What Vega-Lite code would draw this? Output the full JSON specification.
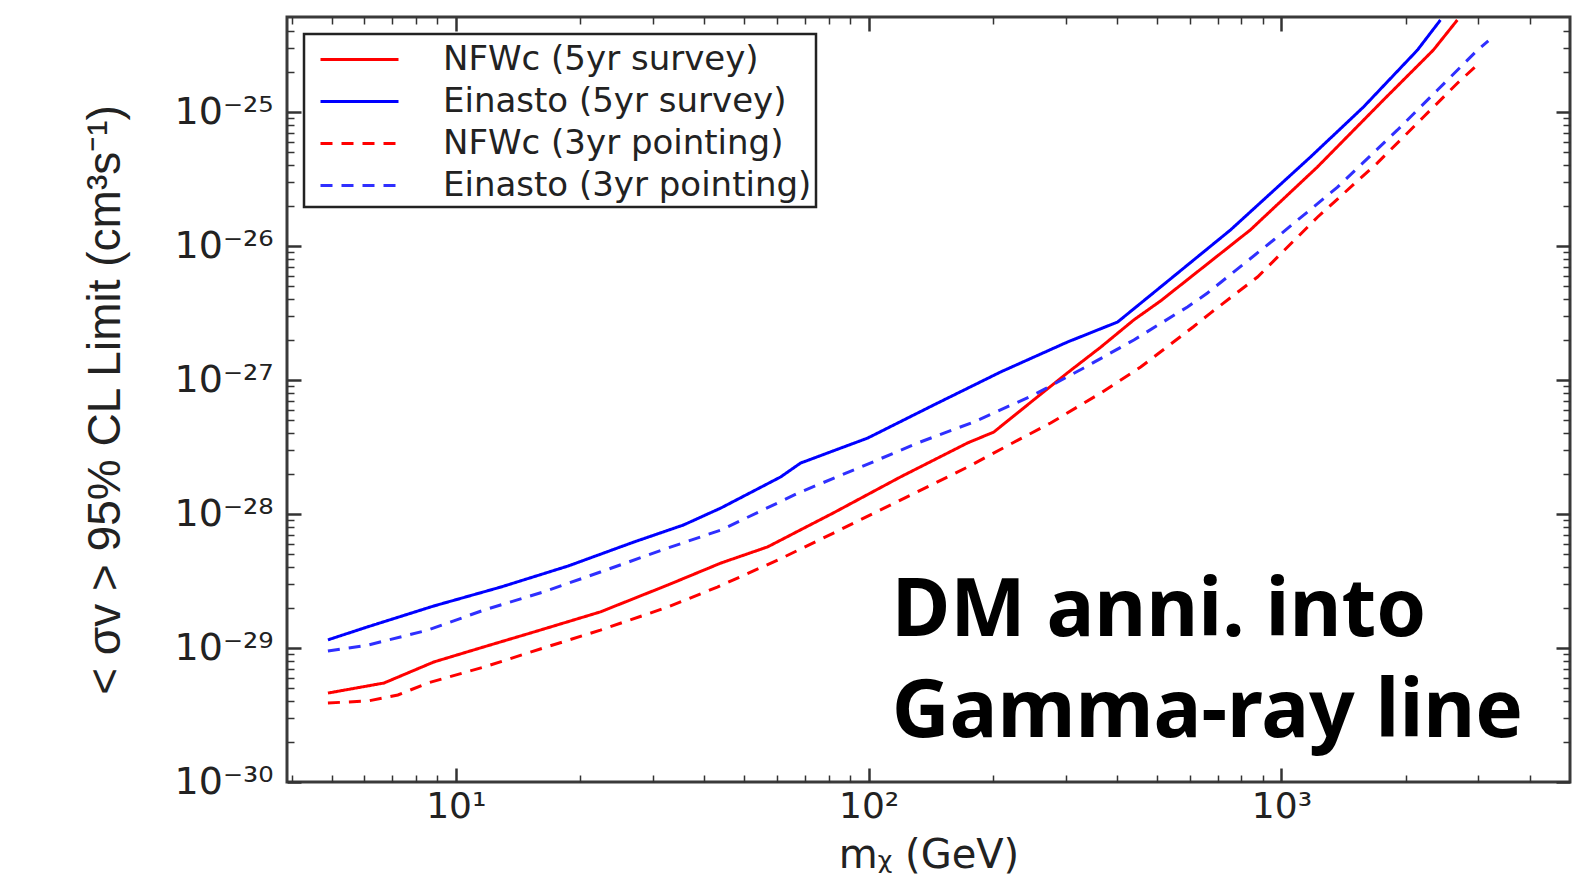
{
  "$schema": "https://vega.github.io/schema/vega-lite/v6.json",
  "width": 1283,
  "height": 765,
  "autosize": "none",
  "padding": {"left": 287, "top": 17, "right": 18, "bottom": 106},
  "background": "#ffffff",
  "config": {
    "view": {"stroke": "#3a3a3a", "strokeWidth": 3},
    "legend": {
      "orient": "top-left",
      "offset": 17,
      "symbolType": "M-0.45,0H3.45",
      "symbolSize": 1600,
      "symbolStrokeWidth": 3,
      "labelOffset": 92,
      "labelFont": "DejaVu Sans",
      "labelFontSize": 34,
      "labelColor": "#222222",
      "labelLimit": 800,
      "rowPadding": 3,
      "padding": 4,
      "strokeColor": "#222222",
      "strokeWidth": 2.5,
      "fillColor": "#ffffff"
    }
  },
  "resolve": {"axis": {"x": "independent", "y": "independent"}},
  "layer": [
    {
      "data": {
        "values": [
          {"series": "Einasto (5yr survey)", "mass": 4.9, "limit": 1.15e-29},
          {"series": "Einasto (5yr survey)", "mass": 6.12, "limit": 1.44e-29},
          {"series": "Einasto (5yr survey)", "mass": 8.85, "limit": 2.06e-29},
          {"series": "Einasto (5yr survey)", "mass": 12.85, "limit": 2.85e-29},
          {"series": "Einasto (5yr survey)", "mass": 18.7, "limit": 4.09e-29},
          {"series": "Einasto (5yr survey)", "mass": 27, "limit": 6.18e-29},
          {"series": "Einasto (5yr survey)", "mass": 35.6, "limit": 8.28e-29},
          {"series": "Einasto (5yr survey)", "mass": 43.9, "limit": 1.11e-28},
          {"series": "Einasto (5yr survey)", "mass": 61.2, "limit": 1.89e-28},
          {"series": "Einasto (5yr survey)", "mass": 68.4, "limit": 2.4e-28},
          {"series": "Einasto (5yr survey)", "mass": 99.5, "limit": 3.69e-28},
          {"series": "Einasto (5yr survey)", "mass": 143.6, "limit": 6.5e-28},
          {"series": "Einasto (5yr survey)", "mass": 209, "limit": 1.15e-27},
          {"series": "Einasto (5yr survey)", "mass": 303, "limit": 1.92e-27},
          {"series": "Einasto (5yr survey)", "mass": 401, "limit": 2.71e-27},
          {"series": "Einasto (5yr survey)", "mass": 482, "limit": 4.3e-27},
          {"series": "Einasto (5yr survey)", "mass": 753, "limit": 1.32e-26},
          {"series": "Einasto (5yr survey)", "mass": 1175, "limit": 4.61e-26},
          {"series": "Einasto (5yr survey)", "mass": 1580, "limit": 1.09e-25},
          {"series": "Einasto (5yr survey)", "mass": 2135, "limit": 2.9e-25},
          {"series": "Einasto (5yr survey)", "mass": 2427, "limit": 4.86e-25},
          {"series": "NFWc (5yr survey)", "mass": 4.9, "limit": 4.61e-30},
          {"series": "NFWc (5yr survey)", "mass": 6.7, "limit": 5.48e-30},
          {"series": "NFWc (5yr survey)", "mass": 8.85, "limit": 7.87e-30},
          {"series": "NFWc (5yr survey)", "mass": 11.7, "limit": 1.02e-29},
          {"series": "NFWc (5yr survey)", "mass": 15.5, "limit": 1.32e-29},
          {"series": "NFWc (5yr survey)", "mass": 22.4, "limit": 1.86e-29},
          {"series": "NFWc (5yr survey)", "mass": 32.6, "limit": 2.95e-29},
          {"series": "NFWc (5yr survey)", "mass": 43.9, "limit": 4.31e-29},
          {"series": "NFWc (5yr survey)", "mass": 56.9, "limit": 5.68e-29},
          {"series": "NFWc (5yr survey)", "mass": 82.2, "limit": 1.02e-28},
          {"series": "NFWc (5yr survey)", "mass": 119.4, "limit": 1.89e-28},
          {"series": "NFWc (5yr survey)", "mass": 173.6, "limit": 3.39e-28},
          {"series": "NFWc (5yr survey)", "mass": 201, "limit": 4.09e-28},
          {"series": "NFWc (5yr survey)", "mass": 251, "limit": 7.1e-28},
          {"series": "NFWc (5yr survey)", "mass": 303, "limit": 1.13e-27},
          {"series": "NFWc (5yr survey)", "mass": 365, "limit": 1.76e-27},
          {"series": "NFWc (5yr survey)", "mass": 439, "limit": 2.81e-27},
          {"series": "NFWc (5yr survey)", "mass": 510, "limit": 3.9e-27},
          {"series": "NFWc (5yr survey)", "mass": 841, "limit": 1.32e-26},
          {"series": "NFWc (5yr survey)", "mass": 1222, "limit": 3.89e-26},
          {"series": "NFWc (5yr survey)", "mass": 1766, "limit": 1.23e-25},
          {"series": "NFWc (5yr survey)", "mass": 2333, "limit": 2.9e-25},
          {"series": "NFWc (5yr survey)", "mass": 2667, "limit": 4.86e-25},
          {"series": "Einasto (3yr pointing)", "mass": 4.9, "limit": 9.5e-30},
          {"series": "Einasto (3yr pointing)", "mass": 6.12, "limit": 1.05e-29},
          {"series": "Einasto (3yr pointing)", "mass": 8.55, "limit": 1.36e-29},
          {"series": "Einasto (3yr pointing)", "mass": 11.7, "limit": 1.92e-29},
          {"series": "Einasto (3yr pointing)", "mass": 16.3, "limit": 2.62e-29},
          {"series": "Einasto (3yr pointing)", "mass": 22.4, "limit": 3.69e-29},
          {"series": "Einasto (3yr pointing)", "mass": 32.6, "limit": 5.57e-29},
          {"series": "Einasto (3yr pointing)", "mass": 43.9, "limit": 7.6e-29},
          {"series": "Einasto (3yr pointing)", "mass": 68.4, "limit": 1.46e-28},
          {"series": "Einasto (3yr pointing)", "mass": 95.7, "limit": 2.24e-28},
          {"series": "Einasto (3yr pointing)", "mass": 131.5, "limit": 3.39e-28},
          {"series": "Einasto (3yr pointing)", "mass": 179.6, "limit": 4.86e-28},
          {"series": "Einasto (3yr pointing)", "mass": 251, "limit": 7.73e-28},
          {"series": "Einasto (3yr pointing)", "mass": 332, "limit": 1.23e-27},
          {"series": "Einasto (3yr pointing)", "mass": 439, "limit": 1.99e-27},
          {"series": "Einasto (3yr pointing)", "mass": 592, "limit": 3.51e-27},
          {"series": "Einasto (3yr pointing)", "mass": 662, "limit": 4.46e-27},
          {"series": "Einasto (3yr pointing)", "mass": 957, "limit": 1.11e-26},
          {"series": "Einasto (3yr pointing)", "mass": 1367, "limit": 2.75e-26},
          {"series": "Einasto (3yr pointing)", "mass": 1910, "limit": 7.35e-26},
          {"series": "Einasto (3yr pointing)", "mass": 2388, "limit": 1.46e-25},
          {"series": "Einasto (3yr pointing)", "mass": 2985, "limit": 2.9e-25},
          {"series": "Einasto (3yr pointing)", "mass": 3170, "limit": 3.4e-25},
          {"series": "NFWc (3yr pointing)", "mass": 4.9, "limit": 3.89e-30},
          {"series": "NFWc (3yr pointing)", "mass": 6.12, "limit": 4.02e-30},
          {"series": "NFWc (3yr pointing)", "mass": 7.24, "limit": 4.46e-30},
          {"series": "NFWc (3yr pointing)", "mass": 8.55, "limit": 5.48e-30},
          {"series": "NFWc (3yr pointing)", "mass": 11.7, "limit": 7.21e-30},
          {"series": "NFWc (3yr pointing)", "mass": 16.3, "limit": 1.0e-29},
          {"series": "NFWc (3yr pointing)", "mass": 22.4, "limit": 1.36e-29},
          {"series": "NFWc (3yr pointing)", "mass": 32.6, "limit": 2.02e-29},
          {"series": "NFWc (3yr pointing)", "mass": 43, "limit": 2.85e-29},
          {"series": "NFWc (3yr pointing)", "mass": 60.3, "limit": 4.54e-29},
          {"series": "NFWc (3yr pointing)", "mass": 82.2, "limit": 7.21e-29},
          {"series": "NFWc (3yr pointing)", "mass": 119.4, "limit": 1.27e-28},
          {"series": "NFWc (3yr pointing)", "mass": 173.6, "limit": 2.24e-28},
          {"series": "NFWc (3yr pointing)", "mass": 230, "limit": 3.56e-28},
          {"series": "NFWc (3yr pointing)", "mass": 276, "limit": 4.78e-28},
          {"series": "NFWc (3yr pointing)", "mass": 365, "limit": 8.0e-28},
          {"series": "NFWc (3yr pointing)", "mass": 456, "limit": 1.25e-27},
          {"series": "NFWc (3yr pointing)", "mass": 612, "limit": 2.5e-27},
          {"series": "NFWc (3yr pointing)", "mass": 673, "limit": 3.16e-27},
          {"series": "NFWc (3yr pointing)", "mass": 875, "limit": 5.87e-27},
          {"series": "NFWc (3yr pointing)", "mass": 1222, "limit": 1.64e-26},
          {"series": "NFWc (3yr pointing)", "mass": 1706, "limit": 4.16e-26},
          {"series": "NFWc (3yr pointing)", "mass": 2208, "limit": 9.18e-26},
          {"series": "NFWc (3yr pointing)", "mass": 2667, "limit": 1.64e-25},
          {"series": "NFWc (3yr pointing)", "mass": 3034, "limit": 2.36e-25}
        ]
      },
      "mark": {"type": "line", "strokeWidth": 3, "clip": true},
      "encoding": {
        "x": {
          "field": "mass", "type": "quantitative",
          "scale": {"type": "log", "domain": [3.9, 5000], "nice": false},
          "axis": {
            "orient": "bottom",
            "values": [4,5,6,7,8,9,10,20,30,40,50,60,70,80,90,100,200,300,400,500,600,700,800,900,1000,2000,3000,4000],
            "labelExpr": "abs(log(datum.value)/LN10 - round(log(datum.value)/LN10)) > 0.01 ? '' : ['10¹','10²','10³'][round(log(datum.value)/LN10) - 1]",
            "tickSize": {"condition": {"test": "abs(log(datum.value)/LN10 - round(log(datum.value)/LN10)) < 0.01", "value": -14}, "value": -7},
            "tickWidth": {"condition": {"test": "abs(log(datum.value)/LN10 - round(log(datum.value)/LN10)) < 0.01", "value": 2.5}, "value": 1.5},
            "tickColor": "#333333",
            "domain": false, "grid": false,
            "labelFont": "DejaVu Sans", "labelFontSize": 36, "labelColor": "#222222",
            "labelPadding": 21, "labelOverlap": false, "labelFlush": false,
            "title": "mᵪ (GeV)", "titleFont": "DejaVu Sans", "titleFontSize": 40,
            "titleFontWeight": "normal", "titleColor": "#222222", "titlePadding": 4
          }
        },
        "y": {
          "field": "limit", "type": "quantitative",
          "scale": {"type": "log", "domain": [1e-30, 5.12e-25], "nice": false},
          "axis": {
            "orient": "left",
            "values": [1e-30,2e-30,3e-30,4e-30,5e-30,6e-30,7e-30,8e-30,9e-30,1e-29,2e-29,3e-29,4e-29,5e-29,6e-29,7e-29,8e-29,9e-29,1e-28,2e-28,3e-28,4e-28,5e-28,6e-28,7e-28,8e-28,9e-28,1e-27,2e-27,3e-27,4e-27,5e-27,6e-27,7e-27,8e-27,9e-27,1e-26,2e-26,3e-26,4e-26,5e-26,6e-26,7e-26,8e-26,9e-26,1e-25,2e-25,3e-25,4e-25],
            "labelExpr": "abs(log(datum.value)/LN10 - round(log(datum.value)/LN10)) > 0.01 ? '' : ['10⁻³⁰','10⁻²⁹','10⁻²⁸','10⁻²⁷','10⁻²⁶','10⁻²⁵'][round(log(datum.value)/LN10) + 30]",
            "tickSize": {"condition": {"test": "abs(log(datum.value)/LN10 - round(log(datum.value)/LN10)) < 0.01", "value": -14}, "value": -7},
            "tickWidth": {"condition": {"test": "abs(log(datum.value)/LN10 - round(log(datum.value)/LN10)) < 0.01", "value": 2.5}, "value": 1.5},
            "tickColor": "#333333",
            "domain": false, "grid": false,
            "labelFont": "DejaVu Sans", "labelFontSize": 38, "labelColor": "#222222",
            "labelPadding": 28, "labelOverlap": false, "labelFlush": false,
            "title": "< σv > 95% CL Limit (cm³s⁻¹)", "titleFont": "Liberation Sans", "titleFontSize": 46,
            "titleFontWeight": "normal", "titleColor": "#222222", "titlePadding": 45
          }
        },
        "color": {
          "field": "series", "type": "nominal",
          "scale": {
            "domain": ["NFWc (5yr survey)", "Einasto (5yr survey)", "NFWc (3yr pointing)", "Einasto (3yr pointing)"],
            "range": ["#ff0000", "#0000ff", "#ff0000", "#2f2fff"]
          },
          "legend": {"title": null}
        },
        "strokeDash": {
          "field": "series", "type": "nominal",
          "scale": {
            "domain": ["NFWc (5yr survey)", "Einasto (5yr survey)", "NFWc (3yr pointing)", "Einasto (3yr pointing)"],
            "range": [[1, 0], [1, 0], [12, 9], [12, 9]]
          },
          "legend": {"title": null}
        }
      }
    },
    {
      "data": {
        "values": [
          {"mass": 113.7, "limit": 1.23e-29, "label": "DM anni. into"},
          {"mass": 113.7, "limit": 2.17e-30, "label": "Gamma-ray line"}
        ]
      },
      "mark": {"type": "text", "align": "left", "baseline": "alphabetic", "font": "Noto Sans", "fontWeight": "bold", "fontSize": 80, "color": "#000000"},
      "encoding": {
        "x": {
          "field": "mass", "type": "quantitative",
          "scale": {"type": "log", "domain": [3.9, 5000], "nice": false},
          "axis": {
            "orient": "top",
            "values": [4,5,6,7,8,9,10,20,30,40,50,60,70,80,90,100,200,300,400,500,600,700,800,900,1000,2000,3000,4000],
            "labels": false,
            "tickSize": {"condition": {"test": "abs(log(datum.value)/LN10 - round(log(datum.value)/LN10)) < 0.01", "value": -14}, "value": -7},
            "tickWidth": {"condition": {"test": "abs(log(datum.value)/LN10 - round(log(datum.value)/LN10)) < 0.01", "value": 2.5}, "value": 1.5},
            "tickColor": "#333333",
            "domain": false, "grid": false, "title": null
          }
        },
        "y": {
          "field": "limit", "type": "quantitative",
          "scale": {"type": "log", "domain": [1e-30, 5.12e-25], "nice": false},
          "axis": {
            "orient": "right",
            "values": [1e-30,2e-30,3e-30,4e-30,5e-30,6e-30,7e-30,8e-30,9e-30,1e-29,2e-29,3e-29,4e-29,5e-29,6e-29,7e-29,8e-29,9e-29,1e-28,2e-28,3e-28,4e-28,5e-28,6e-28,7e-28,8e-28,9e-28,1e-27,2e-27,3e-27,4e-27,5e-27,6e-27,7e-27,8e-27,9e-27,1e-26,2e-26,3e-26,4e-26,5e-26,6e-26,7e-26,8e-26,9e-26,1e-25,2e-25,3e-25,4e-25],
            "labels": false,
            "tickSize": {"condition": {"test": "abs(log(datum.value)/LN10 - round(log(datum.value)/LN10)) < 0.01", "value": -14}, "value": -7},
            "tickWidth": {"condition": {"test": "abs(log(datum.value)/LN10 - round(log(datum.value)/LN10)) < 0.01", "value": 2.5}, "value": 1.5},
            "tickColor": "#333333",
            "domain": false, "grid": false, "title": null
          }
        },
        "text": {"field": "label", "type": "nominal"}
      }
    }
  ]
}
